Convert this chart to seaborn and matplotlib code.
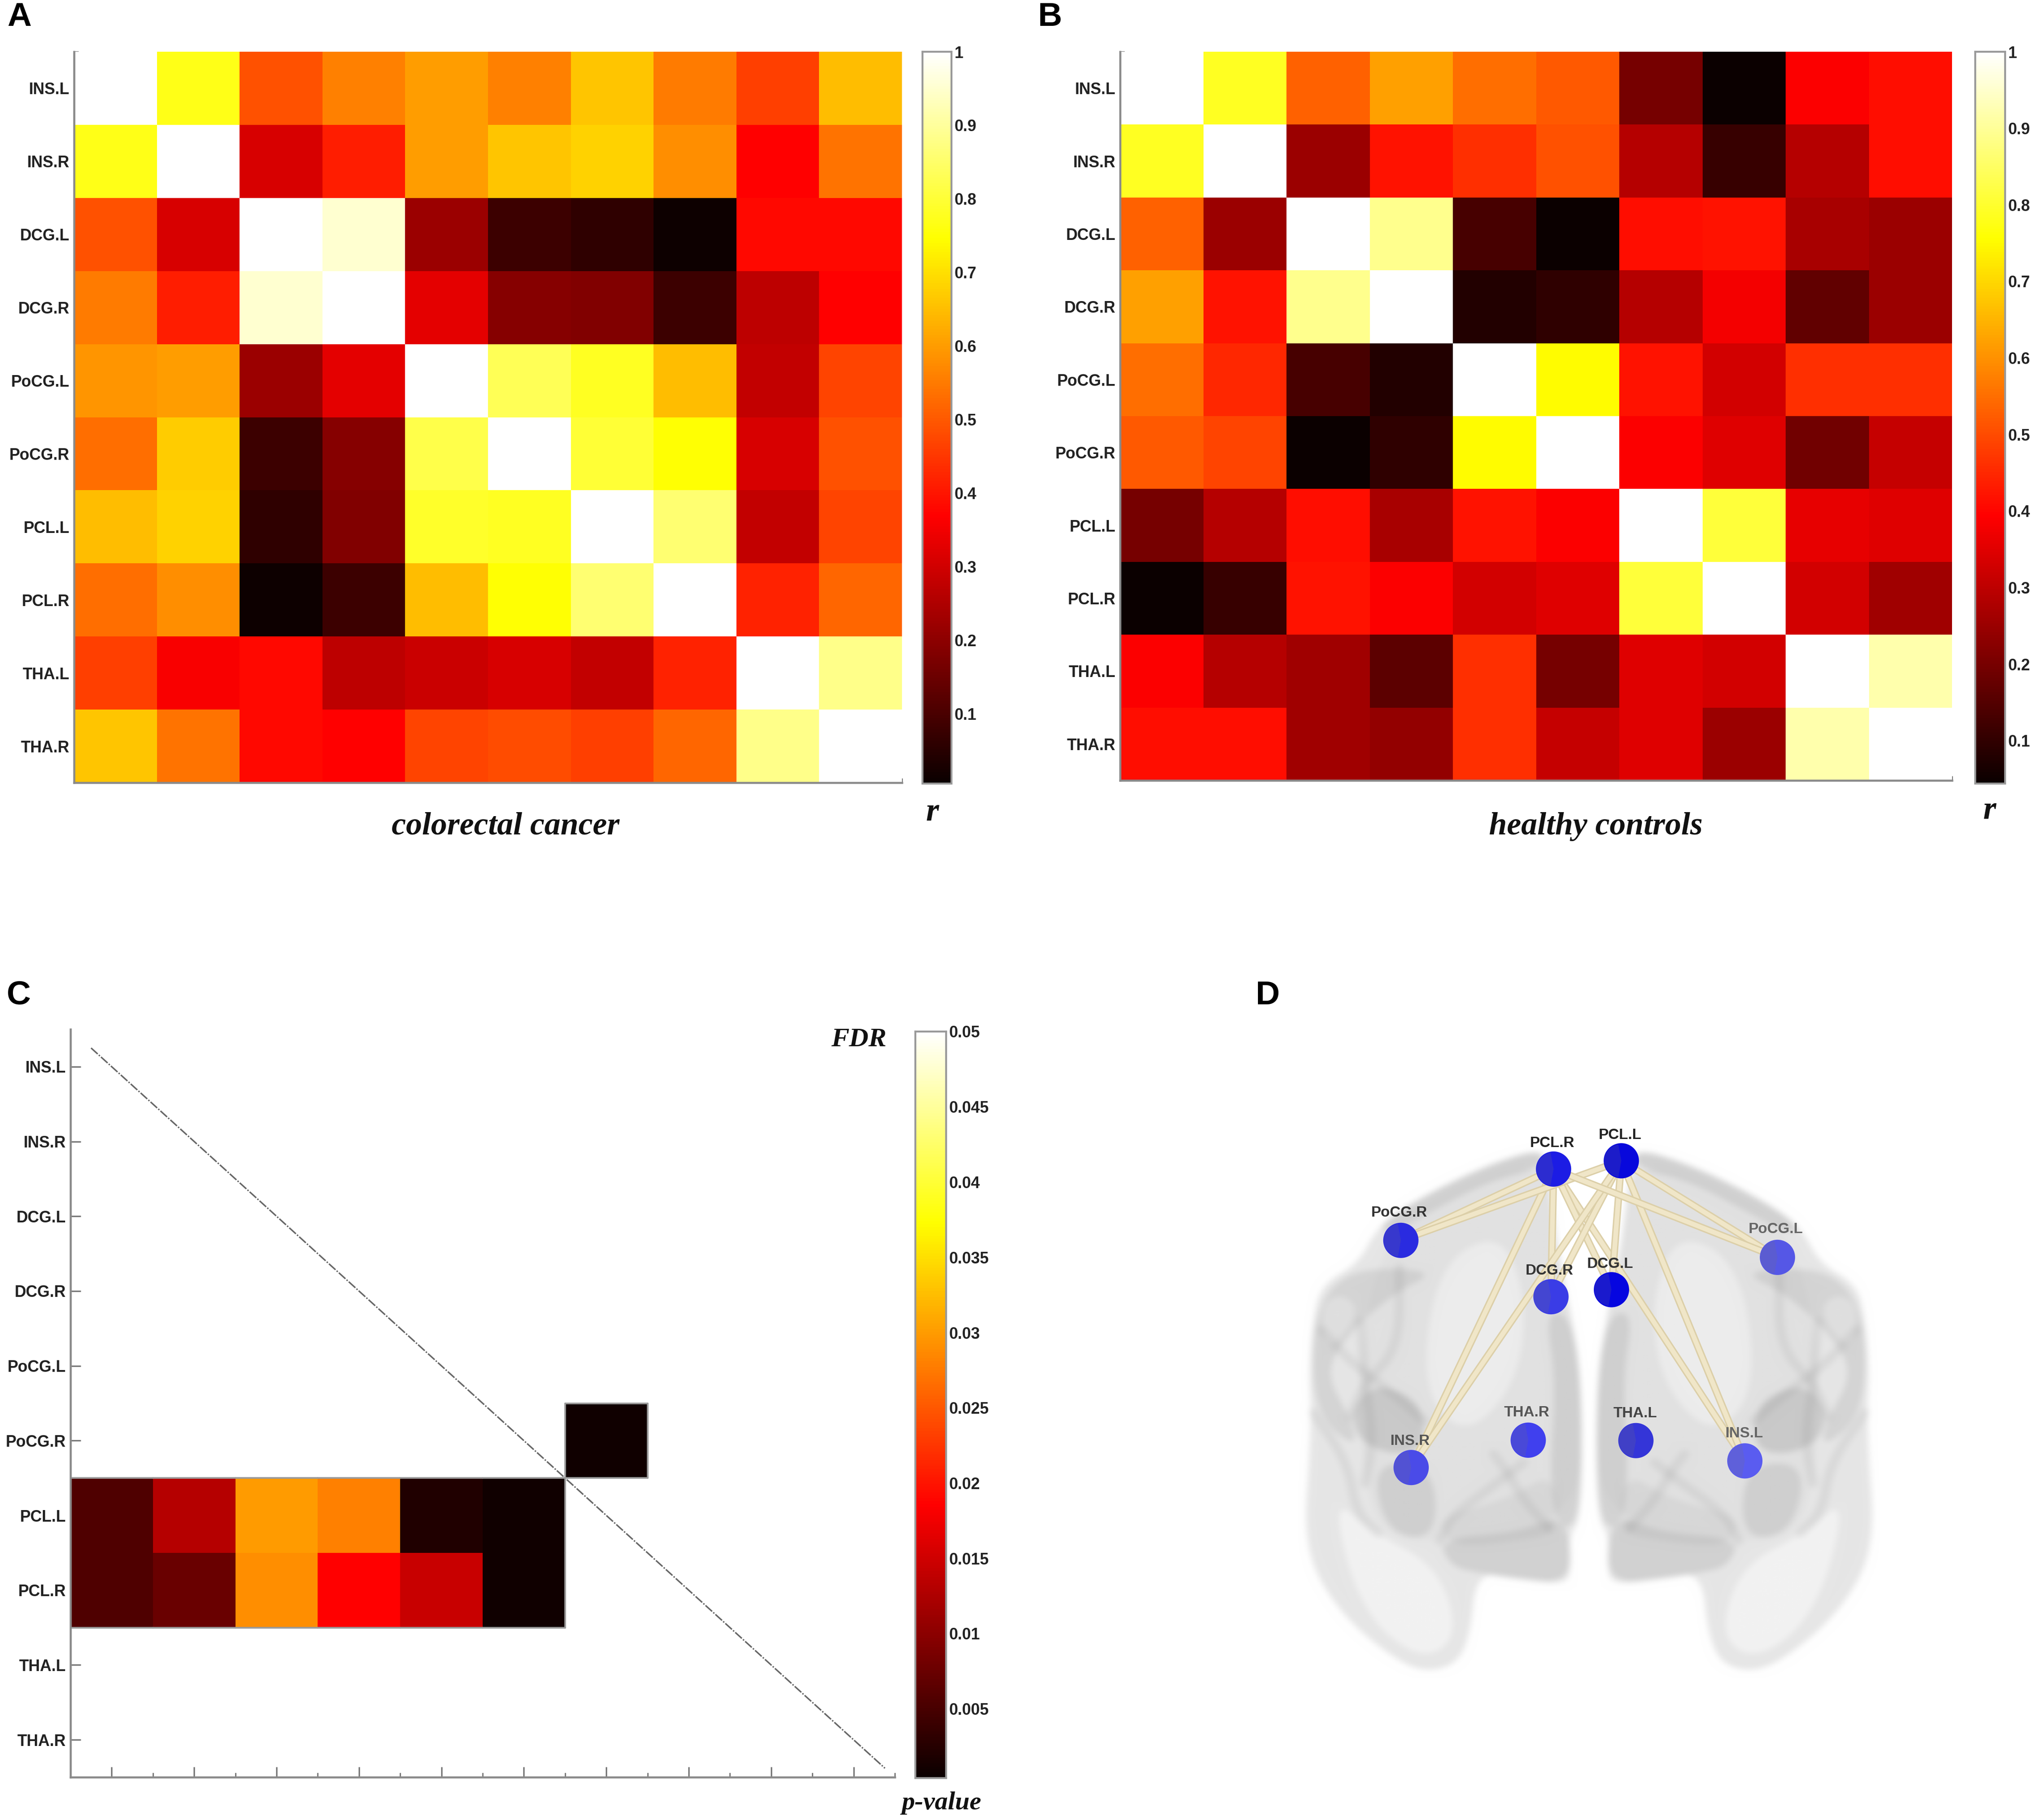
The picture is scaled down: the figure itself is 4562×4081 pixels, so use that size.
import numpy as np
import matplotlib
matplotlib.use("Agg")
import matplotlib.pyplot as plt
from matplotlib.patches import Polygon, Wedge
import seaborn as sns

regions = ["INS.L", "INS.R", "DCG.L", "DCG.R", "PoCG.L", "PoCG.R", "PCL.L", "PCL.R", "THA.L", "THA.R"]

r_crc = [
    [1.00, 0.77, 0.49, 0.56, 0.60, 0.56, 0.66, 0.55, 0.46, 0.65],
    [0.77, 1.00, 0.31, 0.41, 0.60, 0.66, 0.68, 0.58, 0.37, 0.54],
    [0.49, 0.31, 1.00, 0.95, 0.22, 0.08, 0.06, 0.01, 0.38, 0.38],
    [0.55, 0.41, 0.95, 1.00, 0.33, 0.19, 0.18, 0.08, 0.27, 0.37],
    [0.59, 0.60, 0.22, 0.33, 1.00, 0.83, 0.78, 0.65, 0.28, 0.47],
    [0.53, 0.67, 0.08, 0.19, 0.82, 1.00, 0.80, 0.75, 0.31, 0.49],
    [0.65, 0.68, 0.06, 0.18, 0.79, 0.78, 1.00, 0.86, 0.28, 0.47],
    [0.53, 0.58, 0.01, 0.08, 0.65, 0.75, 0.86, 1.00, 0.42, 0.52],
    [0.46, 0.36, 0.38, 0.27, 0.29, 0.31, 0.28, 0.42, 1.00, 0.88],
    [0.66, 0.54, 0.38, 0.37, 0.47, 0.48, 0.46, 0.52, 0.88, 1.00],
]

r_hc = [
    [1.00, 0.79, 0.53, 0.62, 0.55, 0.52, 0.20, 0.04, 0.39, 0.41],
    [0.79, 1.00, 0.25, 0.42, 0.46, 0.51, 0.29, 0.11, 0.29, 0.41],
    [0.53, 0.25, 1.00, 0.89, 0.13, 0.04, 0.41, 0.42, 0.27, 0.25],
    [0.62, 0.42, 0.89, 1.00, 0.08, 0.10, 0.29, 0.38, 0.17, 0.25],
    [0.55, 0.45, 0.13, 0.08, 1.00, 0.75, 0.42, 0.33, 0.46, 0.46],
    [0.52, 0.49, 0.04, 0.10, 0.75, 1.00, 0.39, 0.35, 0.19, 0.31],
    [0.20, 0.29, 0.41, 0.27, 0.42, 0.39, 1.00, 0.81, 0.36, 0.35],
    [0.04, 0.11, 0.42, 0.39, 0.33, 0.35, 0.81, 1.00, 0.33, 0.26],
    [0.39, 0.29, 0.26, 0.16, 0.46, 0.20, 0.35, 0.33, 1.00, 0.92],
    [0.41, 0.41, 0.26, 0.24, 0.46, 0.31, 0.35, 0.25, 0.92, 1.00],
]

nan = np.nan
p_fdr = [
    [nan, nan, nan, nan, nan, nan, nan, nan, nan, nan],
    [nan, nan, nan, nan, nan, nan, nan, nan, nan, nan],
    [nan, nan, nan, nan, nan, nan, nan, nan, nan, nan],
    [nan, nan, nan, nan, nan, nan, nan, nan, nan, nan],
    [nan, nan, nan, nan, nan, nan, nan, nan, nan, nan],
    [nan, nan, nan, nan, nan, nan, 0.0008, nan, nan, nan],
    [0.0055, 0.013, 0.030, 0.028, 0.002, 0.0008, nan, nan, nan, nan],
    [0.0055, 0.0075, 0.029, 0.0185, 0.0145, 0.0008, nan, nan, nan, nan],
    [nan, nan, nan, nan, nan, nan, nan, nan, nan, nan],
    [nan, nan, nan, nan, nan, nan, nan, nan, nan, nan],
]

r_ticks = [0.1, 0.2, 0.3, 0.4, 0.5, 0.6, 0.7, 0.8, 0.9, 1]
r_tick_labels = ["0.1", "0.2", "0.3", "0.4", "0.5", "0.6", "0.7", "0.8", "0.9", "1"]
p_ticks = [0.005, 0.01, 0.015, 0.02, 0.025, 0.03, 0.035, 0.04, 0.045, 0.05]
p_tick_labels = ["0.005", "0.01", "0.015", "0.02", "0.025", "0.03", "0.035", "0.04", "0.045", "0.05"]

# node positions in the brain panel, same order as regions
node_x = [1156, 378, 845, 704, 1232, 354, 868, 710, 902, 651]
node_y = [996, 1012, 583, 600, 505, 464, 272, 292, 947, 946]
node_color = ["#5a5cf0", "#4a4be8", "#0606e0", "#3a3ce6", "#5557e6", "#2a2be0", "#0808dc", "#1c1ce4", "#3435d8", "#4040ee"]
label_x = [1155, 376, 842, 700, 1228, 350, 865, 707, 900, 648]
label_y = [930, 948, 521, 537, 437, 398, 210, 230, 882, 879]
label_color = ["#666666", "#555555", "#333333", "#333333", "#666666", "#333333", "#222222", "#222222", "#444444", "#555555"]

hemisphere = [(690, 240), (560, 280), (400, 360), (300, 430), (255, 520), (170, 570), (150, 650), (140, 780),
              (145, 880), (140, 1000), (130, 1150), (150, 1260), (220, 1370), (320, 1460), (400, 1505), (480, 1490),
              (515, 1420), (530, 1265), (620, 1280), (740, 1295), (750, 1250), (745, 1180), (775, 1130), (775, 800),
              (750, 640), (720, 500), (700, 330)]
medial_layer = [(690, 250), (400, 390), (300, 500), (250, 800), (270, 1050), (310, 1170), (440, 1195), (620, 1170),
                (710, 1130), (775, 1050), (775, 800), (750, 640), (720, 480)]
lateral_band = [(160, 620), (230, 540), (350, 530), (430, 545), (340, 590), (240, 680), (175, 780), (240, 900),
                (250, 965), (170, 900), (145, 780)]
dark_blob = [(235, 880), (290, 810), (380, 840), (410, 900), (400, 970), (330, 980), (260, 950)]
grey_corner = [(285, 1000), (430, 1005), (438, 1185), (320, 1172)]
lower_strip = [(440, 1130), (600, 1090), (710, 1020), (725, 1170), (620, 1190), (470, 1205)]
bottom_band = [(440, 1185), (620, 1170), (715, 1130), (750, 1180), (745, 1290), (620, 1280), (530, 1265), (470, 1250)]
centre_column = [(690, 640), (745, 640), (775, 800), (775, 1130), (725, 1170), (700, 1050), (715, 800)]
top_rim = [(690, 240), (560, 280), (400, 360), (300, 430), (330, 450), (430, 390), (560, 320), (680, 290)]
glow_upper = [(440, 520), (590, 440), (650, 620), (620, 820), (500, 940), (400, 820)]
glow_side = [(165, 620), (220, 590), (260, 640), (180, 740)]
glow_lobe = [(190, 1080), (290, 1170), (440, 1250), (490, 1420), (400, 1480), (260, 1360)]

ribbon_a = [(350, 530), (350, 720), (270, 810), (235, 890)]
ribbon_b = [(170, 680), (240, 760), (330, 830), (410, 900)]
ribbon_c = [(150, 880), (230, 1000), (250, 1120), (300, 1170)]
ribbon_d = [(445, 1190), (470, 1130), (590, 1040), (640, 1000)]
ribbon_e = [(570, 980), (600, 1020), (640, 1090), (700, 1160)]
ribbon_f = [(260, 660), (270, 800), (290, 950), (270, 1050)]

W, H = 4562, 4081
sns.set_theme(style="white")
plt.rcParams["font.family"] = ["Liberation Sans", "DejaVu Sans"]
plt.rcParams["font.weight"] = "bold"
fig = plt.figure(figsize=(W / 300, H / 300), dpi=300, facecolor="white")


def box(x0, y0, x1, y1):
    return [x0 / W, 1 - y1 / H, (x1 - x0) / W, (y1 - y0) / H]


def put(x, y, s, **kw):
    fig.text(x / W, 1 - y / H, s, ha="center", va="center", **kw)


def style_axes(ax, cax, cticks, clabels, left_minor=True, label_pad=2.5):
    n = 10
    ax.set_xticks(np.arange(n) + 0.5)
    ax.set_xticklabels([])
    ax.set_xticks(np.arange(n + 1), minor=True)
    ax.set_yticks(np.arange(n) + 0.5)
    ax.set_yticklabels(regions, rotation=0, fontsize=8.6, color="#222222")
    ax.set_yticks(np.arange(n + 1) if left_minor else [], minor=True)
    ax.tick_params(axis="both", which="major", direction="in", length=5.5, width=0.8, color="#777777",
                   left=True, bottom=True, pad=label_pad)
    ax.tick_params(axis="both", which="minor", direction="in", length=2.4, width=0.7, color="#777777",
                   left=True, bottom=True)
    for side in ["left", "bottom"]:
        ax.spines[side].set_visible(True)
        ax.spines[side].set_color("#8a8a8a")
        ax.spines[side].set_linewidth(1.1)
    for side in ["top", "right"]:
        ax.spines[side].set_visible(False)
    cax.set_yticks(cticks)
    cax.set_yticklabels(clabels, fontsize=8.6, color="#222222")
    cax.tick_params(axis="y", direction="in", length=3.5, width=0.7, color="#888888", right=True, pad=1.5)
    for s in cax.spines.values():
        s.set_visible(True)
        s.set_color("#999999")
        s.set_linewidth(1.0)


# A
ax_a = fig.add_axes(box(166, 116, 2022, 1755))
cax_a = fig.add_axes(box(2068, 116, 2133, 1757))
sns.heatmap(np.array(r_crc), ax=ax_a, cbar_ax=cax_a, cmap="hot", vmin=0.005, vmax=1, xticklabels=False, yticklabels=False)
style_axes(ax_a, cax_a, r_ticks, r_tick_labels)

# B
ax_b = fig.add_axes(box(2511, 116, 4376, 1750))
cax_b = fig.add_axes(box(4428, 116, 4495, 1757))
sns.heatmap(np.array(r_hc), ax=ax_b, cbar_ax=cax_b, cmap="hot", vmin=0.044, vmax=1, xticklabels=False, yticklabels=False)
style_axes(ax_b, cax_b, r_ticks, r_tick_labels)

# C
ax_c = fig.add_axes(box(158, 2308, 2006, 3985))
cax_c = fig.add_axes(box(2052, 2313, 2121, 3987))
p_arr = np.array(p_fdr)
sns.heatmap(p_arr, ax=ax_c, cbar_ax=cax_c, cmap="hot", vmin=0.0004, vmax=0.05, xticklabels=False, yticklabels=False)
style_axes(ax_c, cax_c, p_ticks, p_tick_labels, left_minor=False)
ax_c.plot([0.25, 9.88], [0.25, 9.88], color="#666666", lw=0.8, ls=(0, (6, 1, 1, 1)))
# grey outline round the significant blocks
filled = ~np.isnan(p_arr)
for i in range(10):
    for j in range(10):
        if not filled[i, j]:
            continue
        if i == 0 or not filled[i - 1, j]:
            ax_c.plot([j, j + 1], [i, i], color="#9a9a9a", lw=0.9)
        if i == 9 or not filled[i + 1, j]:
            ax_c.plot([j, j + 1], [i + 1, i + 1], color="#9a9a9a", lw=0.9)
        if j == 9 or not filled[i, j + 1]:
            ax_c.plot([j + 1, j + 1], [i, i + 1], color="#9a9a9a", lw=0.9)
        if j > 0 and not filled[i, j - 1]:
            ax_c.plot([j, j], [i, i + 1], color="#9a9a9a", lw=0.9)


# D: the translucent brain is painted off-screen and softened, as in the original render
def smooth(points, rounds=3, closed=True):
    pts = np.array(points, dtype=float)
    for _ in range(rounds):
        if closed:
            nxt = np.roll(pts, -1, axis=0)
            pts = np.column_stack([0.75 * pts + 0.25 * nxt, 0.25 * pts + 0.75 * nxt]).reshape(-1, 2)
        else:
            nxt = pts[1:]
            mid = np.column_stack([0.75 * pts[:-1] + 0.25 * nxt, 0.25 * pts[:-1] + 0.75 * nxt]).reshape(-1, 2)
            pts = np.vstack([pts[0], mid, pts[-1]])
    return pts


def both_sides(ax, points, **kw):
    pts = smooth(points)
    ax.add_patch(Polygon(pts, closed=True, lw=0, **kw))
    mirrored = pts.copy()
    mirrored[:, 0] = 1585 - mirrored[:, 0]
    ax.add_patch(Polygon(mirrored, closed=True, lw=0, **kw))


def ribbon(ax, points, lw=5, alpha=0.09):
    pts = smooth(points, closed=False)
    ax.plot(pts[:, 0], pts[:, 1], color="#606060", lw=lw, alpha=alpha, solid_capstyle="round")
    ax.plot(1585 - pts[:, 0], pts[:, 1], color="#606060", lw=lw, alpha=alpha, solid_capstyle="round")


def blur(img, radius=4, passes=3):
    pad = radius * passes + 1
    out = np.pad(img.astype(float), ((pad, pad), (pad, pad), (0, 0)), constant_values=255)
    k = np.ones(2 * radius + 1) / (2 * radius + 1)
    for _ in range(passes):
        for axis in (0, 1):
            out = np.apply_along_axis(lambda m: np.convolve(m, k, mode="same"), axis, out)
    return np.clip(out[pad:-pad, pad:-pad] / 255, 0, 1)


off = plt.figure(figsize=(5, 5), dpi=200, facecolor="white")
ax_off = off.add_axes([0, 0, 1, 1])
ax_off.set_xlim(0, 1560)
ax_off.set_ylim(1560, 0)
ax_off.axis("off")
both_sides(ax_off, hemisphere, facecolor="#e6e6e6")
both_sides(ax_off, glow_lobe, facecolor="#ffffff", alpha=0.50)
both_sides(ax_off, glow_upper, facecolor="#ffffff", alpha=0.50)
both_sides(ax_off, glow_side, facecolor="#ffffff", alpha=0.60)
both_sides(ax_off, medial_layer, facecolor="#b8b8b8", alpha=0.10)
both_sides(ax_off, lateral_band, facecolor="#8c8c8c", alpha=0.20)
both_sides(ax_off, dark_blob, facecolor="#777777", alpha=0.22)
both_sides(ax_off, grey_corner, facecolor="#808080", alpha=0.18)
both_sides(ax_off, lower_strip, facecolor="#808080", alpha=0.10)
both_sides(ax_off, bottom_band, facecolor="#808080", alpha=0.20)
both_sides(ax_off, centre_column, facecolor="#808080", alpha=0.18)
both_sides(ax_off, top_rim, facecolor="#808080", alpha=0.20)
for strip in [ribbon_a, ribbon_b, ribbon_c, ribbon_d, ribbon_e, ribbon_f]:
    ribbon(ax_off, strip)
off.canvas.draw()
brain_img = blur(np.asarray(off.canvas.buffer_rgba())[:, :, :3])
plt.close(off)

ax_d = fig.add_axes(box(2800, 2350, 4300, 3800))
ax_d.imshow(brain_img, extent=(0, 1560, 1560, 0), aspect="auto", zorder=1)

# edges come from the significant cells of the FDR matrix
edges = {tuple(sorted(e)) for e in zip(*np.where(filled))}
for i, j in edges:
    ax_d.plot([node_x[i], node_x[j]], [node_y[i], node_y[j]], color="#dccfa8", lw=4.0, solid_capstyle="round", zorder=3)
    ax_d.plot([node_x[i], node_x[j]], [node_y[i], node_y[j]], color="#f0e6c8", lw=2.5, solid_capstyle="round", zorder=3)

sns.scatterplot(x=node_x, y=node_y, hue=regions, palette=dict(zip(regions, node_color)), s=360, linewidth=0,
                legend=False, ax=ax_d, zorder=4)
for x, y in zip(node_x, node_y):
    ax_d.add_patch(Wedge((x, y), 40, 100, 260, facecolor="#777777", alpha=0.18, lw=0, zorder=5))
ax_d.set_xlim(0, 1560)
ax_d.set_ylim(1560, 0)
ax_d.axis("off")
for name, x, y, c in zip(regions, label_x, label_y, label_color):
    ax_d.text(x, y, name, ha="center", va="center", fontsize=8, color=c, zorder=6)

# text
serif = dict(family=["Liberation Serif", "DejaVu Serif"], style="italic", weight="bold", color="#111111")
put(1133, 1853, "colorectal cancer", fontsize=17.3, **serif)
put(2090, 1822, "r", fontsize=18, **serif)
put(3578, 1853, "healthy controls", fontsize=17.3, **serif)
put(4460, 1818, "r", fontsize=18, **serif)
put(1925, 2332, "FDR", fontsize=14.5, **serif)
put(2110, 4043, "p-value", fontsize=14, **serif)

letters = dict(weight="bold", color="black", fontsize=18)
put(43, 38, "A", **letters)
put(2354, 38, "B", **letters)
put(42, 2232, "C", **letters)
put(2842, 2232, "D", **letters)

fig.savefig("out.png", dpi=300, facecolor="white")
